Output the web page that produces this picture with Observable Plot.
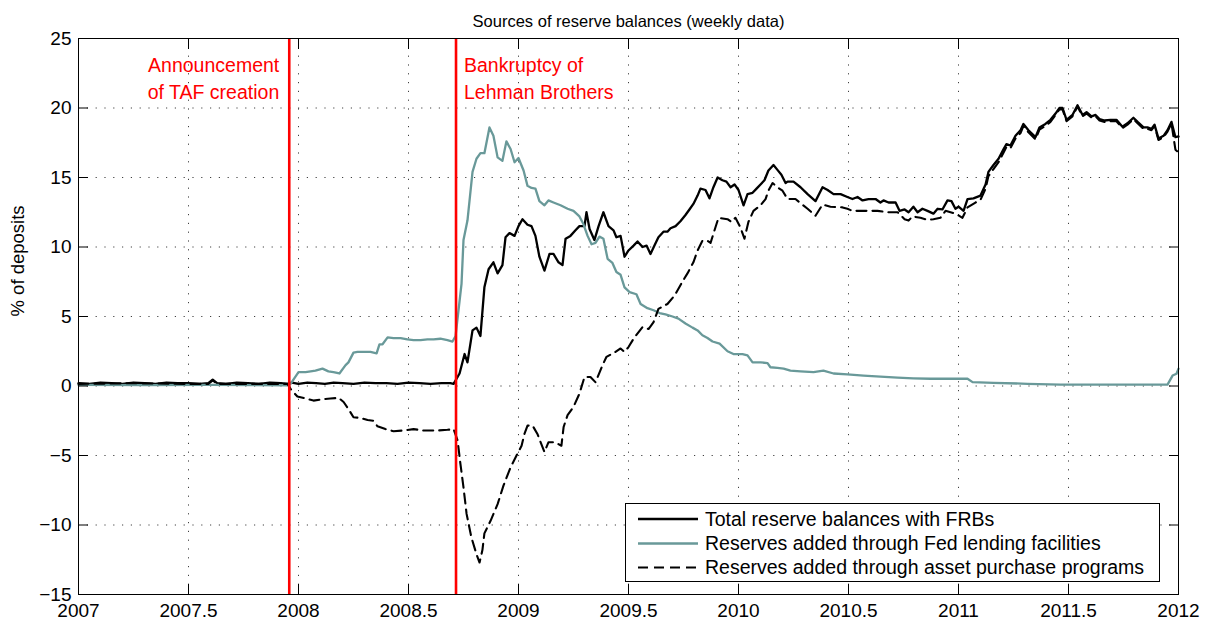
<!DOCTYPE html>
<html>
<head>
<meta charset="utf-8">
<script src="https://cdn.jsdelivr.net/npm/d3@7"></script>
<script src="https://cdn.jsdelivr.net/npm/@observablehq/plot@0.6"></script>
<style>
  html, body { margin: 0; padding: 0; background: #fff; }
  #wrap { position: relative; width: 1208px; height: 623px; font-family: "Liberation Sans", Arial, Helvetica, sans-serif; }
  #legend { position: absolute; left: 625px; top: 503px; width: 535px; height: 79px; border: 1px solid #000; background: #fff; box-sizing: border-box; }
</style>
</head>
<body>
<div id="wrap"><div id="legend"></div></div>
<script>
// ---------- DATA (decimal year, % of deposits) ----------
const chartTitle = "Sources of reserve balances (weekly data)";
const yLabel = "% of deposits";
const xTicks = [2007, 2007.5, 2008, 2008.5, 2009, 2009.5, 2010, 2010.5, 2011, 2011.5, 2012];
const yTicks = [-15, -10, -5, 0, 5, 10, 15, 20, 25];
const seriesNames = ["Total reserve balances with FRBs", "Reserves added through Fed lending facilities", "Reserves added through asset purchase programs"];
const eventDates = [2007.958, 2008.716];
const eventLabels = ["Announcement\nof TAF creation", "Bankruptcy of\nLehman Brothers"];
const eventLabelY = [24, 24];

const totalReserves = [
  [2007.00,0.2],[2007.05,0.15],[2007.10,0.25],[2007.15,0.2],[2007.20,0.15],[2007.25,0.25],[2007.30,0.2],[2007.35,0.15],
  [2007.40,0.25],[2007.45,0.2],[2007.50,0.2],[2007.55,0.15],[2007.59,0.2],[2007.61,0.45],[2007.63,0.2],[2007.67,0.15],
  [2007.72,0.25],[2007.77,0.2],[2007.82,0.15],[2007.87,0.25],[2007.92,0.2],[2007.95,0.15],[2007.97,0.25],[2008.00,0.15],
  [2008.04,0.25],[2008.08,0.2],[2008.12,0.15],[2008.16,0.25],[2008.20,0.2],[2008.25,0.15],[2008.30,0.25],[2008.35,0.2],
  [2008.40,0.2],[2008.45,0.15],[2008.50,0.25],[2008.55,0.2],[2008.60,0.15],[2008.65,0.2],[2008.69,0.2],[2008.705,0.15],
  [2008.732,0.9],[2008.755,2.3],[2008.768,1.7],[2008.791,4.0],[2008.809,4.2],[2008.827,3.6],[2008.845,7.1],[2008.864,8.4],
  [2008.886,8.9],[2008.905,8.1],[2008.927,8.7],[2008.941,10.7],[2008.959,11.0],[2008.982,10.8],[2009.000,11.5],[2009.018,12.0],
  [2009.041,11.6],[2009.059,11.5],[2009.077,10.8],[2009.095,9.3],[2009.118,8.3],[2009.141,9.5],[2009.159,9.5],[2009.182,8.9],
  [2009.200,8.7],[2009.214,10.6],[2009.236,10.8],[2009.259,11.2],[2009.277,11.5],[2009.300,11.5],[2009.309,12.5],[2009.323,11.3],
  [2009.345,10.5],[2009.364,11.5],[2009.386,12.5],[2009.409,11.5],[2009.432,11.2],[2009.445,10.7],[2009.464,10.8],[2009.482,9.3],
  [2009.500,9.75],[2009.523,10.1],[2009.541,10.4],[2009.564,10.0],[2009.582,10.1],[2009.600,9.5],[2009.618,10.1],[2009.636,10.7],
  [2009.659,11.1],[2009.677,11.1],[2009.691,11.35],[2009.714,11.5],[2009.736,11.85],[2009.759,12.3],[2009.777,12.7],[2009.795,13.1],
  [2009.814,13.7],[2009.827,14.2],[2009.850,14.1],[2009.868,13.5],[2009.886,14.3],[2009.905,15.0],[2009.927,14.8],[2009.945,14.7],
  [2009.964,14.3],[2009.982,14.5],[2010.000,14.1],[2010.023,13.0],[2010.041,13.8],[2010.064,13.9],[2010.082,14.2],[2010.100,14.5],
  [2010.118,14.8],[2010.136,15.5],[2010.159,15.9],[2010.177,15.55],[2010.195,15.2],[2010.214,14.6],[2010.223,14.7],[2010.250,14.7],
  [2010.282,14.3],[2010.314,13.8],[2010.350,13.3],[2010.382,14.3],[2010.405,14.1],[2010.432,13.8],[2010.464,13.8],[2010.495,13.6],
  [2010.518,13.45],[2010.541,13.6],[2010.564,13.35],[2010.591,13.45],[2010.623,13.45],[2010.645,13.2],[2010.659,13.35],[2010.682,13.2],
  [2010.714,13.2],[2010.732,12.6],[2010.755,12.7],[2010.773,12.5],[2010.795,12.9],[2010.814,12.5],[2010.836,12.75],[2010.859,12.6],
  [2010.886,12.4],[2010.905,12.75],[2010.927,12.7],[2010.950,13.35],[2010.968,13.3],[2010.986,12.75],[2011.000,12.9],[2011.023,12.6],
  [2011.041,13.45],[2011.068,13.5],[2011.100,13.7],[2011.123,14.5],[2011.136,15.4],[2011.159,15.9],[2011.182,16.35],[2011.205,17.05],
  [2011.218,17.4],[2011.236,17.3],[2011.259,18.0],[2011.282,18.4],[2011.295,18.85],[2011.318,18.4],[2011.350,17.9],[2011.368,18.6],
  [2011.395,18.85],[2011.418,19.15],[2011.441,19.6],[2011.459,20.0],[2011.473,20.0],[2011.491,19.15],[2011.518,19.5],[2011.541,20.2],
  [2011.564,19.5],[2011.582,19.7],[2011.605,19.4],[2011.623,19.5],[2011.641,19.2],[2011.664,19.1],[2011.691,19.15],[2011.718,19.15],
  [2011.745,18.65],[2011.768,18.9],[2011.795,19.3],[2011.814,19.0],[2011.841,18.6],[2011.859,18.6],[2011.877,18.5],[2011.891,18.8],
  [2011.909,17.8],[2011.932,18.0],[2011.950,18.4],[2011.968,19.0],[2011.986,17.9],[2012.000,17.95]
];

const lendingFacilities = [
  [2007.00,0.08],[2007.30,0.06],[2007.60,0.08],[2007.95,0.05],[2007.964,0.15],[2008.000,1.0],[2008.032,1.0],[2008.055,1.05],
  [2008.077,1.1],[2008.109,1.25],[2008.136,1.05],[2008.159,1.0],[2008.186,0.9],[2008.214,1.5],[2008.227,1.7],[2008.250,2.4],
  [2008.268,2.45],[2008.295,2.45],[2008.327,2.45],[2008.355,2.35],[2008.368,3.0],[2008.382,3.0],[2008.405,3.5],[2008.432,3.45],
  [2008.464,3.45],[2008.495,3.35],[2008.523,3.3],[2008.555,3.3],[2008.586,3.35],[2008.614,3.35],[2008.645,3.4],[2008.677,3.3],
  [2008.700,3.2],[2008.714,3.6],[2008.727,5.4],[2008.741,7.35],[2008.750,10.5],[2008.768,11.9],[2008.791,15.4],[2008.809,16.35],
  [2008.827,16.75],[2008.845,16.75],[2008.868,18.6],[2008.886,18.0],[2008.905,16.45],[2008.927,16.2],[2008.945,17.6],[2008.964,17.05],
  [2008.982,16.1],[2009.000,16.4],[2009.023,15.5],[2009.041,14.4],[2009.059,14.25],[2009.077,14.2],[2009.095,13.3],[2009.118,13.0],
  [2009.136,13.35],[2009.159,13.2],[2009.191,13.0],[2009.223,12.75],[2009.250,12.6],[2009.277,12.2],[2009.295,11.65],[2009.314,10.8],
  [2009.332,10.2],[2009.350,10.3],[2009.368,10.75],[2009.386,10.6],[2009.405,9.15],[2009.427,8.85],[2009.445,8.2],[2009.464,8.0],
  [2009.482,7.1],[2009.505,6.75],[2009.536,6.6],[2009.555,5.9],[2009.586,5.6],[2009.614,5.45],[2009.641,5.25],[2009.668,5.15],
  [2009.700,5.0],[2009.727,4.85],[2009.759,4.5],[2009.791,4.2],[2009.814,4.0],[2009.836,3.65],[2009.859,3.45],[2009.882,3.2],
  [2009.914,3.05],[2009.950,2.5],[2009.977,2.3],[2010.018,2.3],[2010.041,2.2],[2010.064,1.7],[2010.100,1.7],[2010.132,1.65],
  [2010.145,1.35],[2010.177,1.3],[2010.205,1.25],[2010.236,1.1],[2010.282,1.05],[2010.341,1.0],[2010.386,1.1],[2010.432,0.9],
  [2010.495,0.83],[2010.568,0.75],[2010.645,0.68],[2010.723,0.6],[2010.795,0.55],[2010.873,0.52],[2010.950,0.52],[2011.041,0.52],
  [2011.064,0.28],[2011.159,0.23],[2011.314,0.16],[2011.464,0.1],[2011.614,0.1],[2011.768,0.1],[2011.950,0.1],[2011.973,0.75],
  [2011.991,0.88],[2012.000,1.25]
];

const assetPurchases = [
  [2007.00,0.15],[2007.25,0.2],[2007.50,0.15],[2007.59,0.15],[2007.61,0.4],[2007.63,0.15],[2007.95,0.15],[2007.968,-0.3],
  [2007.995,-0.75],[2008.032,-0.9],[2008.068,-1.05],[2008.109,-0.95],[2008.145,-0.9],[2008.182,-0.85],[2008.205,-1.15],[2008.227,-1.65],
  [2008.250,-2.25],[2008.282,-2.3],[2008.314,-2.45],[2008.341,-2.5],[2008.359,-2.9],[2008.395,-3.1],[2008.432,-3.25],[2008.477,-3.2],
  [2008.523,-3.1],[2008.568,-3.2],[2008.632,-3.2],[2008.677,-3.15],[2008.705,-3.1],[2008.723,-3.9],[2008.736,-5.6],[2008.750,-7.3],
  [2008.764,-9.2],[2008.786,-10.9],[2008.809,-12.1],[2008.823,-12.7],[2008.836,-11.8],[2008.845,-10.6],[2008.873,-9.7],[2008.905,-8.5],
  [2008.932,-7.15],[2008.964,-5.85],[2008.991,-5.0],[2009.014,-4.3],[2009.027,-3.45],[2009.041,-2.85],[2009.064,-2.85],[2009.086,-3.45],
  [2009.118,-4.75],[2009.136,-4.05],[2009.168,-4.05],[2009.195,-4.3],[2009.205,-2.95],[2009.223,-2.1],[2009.250,-1.5],[2009.277,-0.55],
  [2009.300,0.65],[2009.327,0.65],[2009.350,0.27],[2009.382,1.5],[2009.400,2.1],[2009.441,2.45],[2009.464,2.7],[2009.482,2.45],
  [2009.500,2.8],[2009.523,3.4],[2009.564,4.25],[2009.591,4.1],[2009.614,4.6],[2009.636,5.55],[2009.677,5.9],[2009.709,6.5],
  [2009.745,7.5],[2009.768,8.1],[2009.795,8.9],[2009.814,9.75],[2009.836,10.45],[2009.859,10.45],[2009.873,10.3],[2009.895,11.4],
  [2009.909,12.1],[2009.950,12.0],[2009.968,11.8],[2009.986,12.1],[2010.009,11.4],[2010.027,10.6],[2010.045,11.8],[2010.068,12.6],
  [2010.100,13.0],[2010.123,13.45],[2010.136,14.05],[2010.155,14.6],[2010.177,14.3],[2010.200,14.05],[2010.223,13.45],[2010.259,13.45],
  [2010.314,12.75],[2010.350,12.25],[2010.382,13.05],[2010.418,12.9],[2010.473,12.85],[2010.495,12.75],[2010.518,12.6],[2010.591,12.6],
  [2010.632,12.6],[2010.677,12.5],[2010.723,12.5],[2010.755,12.0],[2010.773,11.9],[2010.791,12.2],[2010.827,12.1],[2010.859,11.95],
  [2010.886,12.0],[2010.918,12.1],[2010.941,12.6],[2010.986,12.4],[2011.018,12.1],[2011.041,12.85],[2011.077,13.2],[2011.100,13.4],
  [2011.123,14.2],[2011.136,15.1],[2011.159,15.6],[2011.182,16.1],[2011.205,16.8],[2011.218,17.2],[2011.236,17.1],[2011.259,17.8],
  [2011.282,18.2],[2011.295,18.7],[2011.318,18.25],[2011.350,17.75],[2011.368,18.45],[2011.395,18.7],[2011.418,19.0],[2011.441,19.5],
  [2011.459,19.9],[2011.473,19.9],[2011.491,19.05],[2011.518,19.4],[2011.541,20.1],[2011.564,19.4],[2011.582,19.6],[2011.605,19.3],
  [2011.623,19.4],[2011.641,19.1],[2011.664,19.0],[2011.691,19.05],[2011.718,19.05],[2011.745,18.55],[2011.768,18.8],[2011.795,19.2],
  [2011.814,18.9],[2011.841,18.5],[2011.859,18.5],[2011.877,18.4],[2011.891,18.7],[2011.909,17.7],[2011.932,17.9],[2011.950,18.3],
  [2011.968,18.9],[2011.986,17.0],[2012.000,16.8]
];

// ---------- STYLE ----------
const FONT = '"Liberation Sans", Arial, Helvetica, sans-serif';
const TEAL = "#699999";
const RED = "#ff0000";
const styles = [
  {stroke: "#000", strokeWidth: 2.3, dash: null},
  {stroke: TEAL, strokeWidth: 2.3, dash: null},
  {stroke: "#000", strokeWidth: 2.1, dash: "10,6"}
];
const seriesData = [totalReserves, lendingFacilities, assetPurchases];
const events = eventDates.map((d, i) => ({date: d, label: eventLabels[i], y: eventLabelY[i]}));

const grid = {stroke: "#000", strokeOpacity: 0.75, strokeWidth: 1, strokeDasharray: "1.2,7.6"};

const chart = Plot.plot({
  width: 1208,
  height: 623,
  marginLeft: 78,
  marginRight: 30,
  marginTop: 38,
  marginBottom: 29,
  style: {fontFamily: FONT, fontSize: "19px", background: "#fff", overflow: "visible"},
  x: {domain: [2007, 2012]},
  y: {domain: [-15, 25]},
  marks: [
    Plot.gridX(xTicks, grid),
    Plot.gridY(yTicks, grid),
    ...seriesData.map((s, i) => Plot.line(s, {
      x: d => d[0], y: d => d[1],
      stroke: styles[i].stroke, strokeWidth: styles[i].strokeWidth,
      strokeDasharray: styles[i].dash, strokeLinejoin: "round"
    })),
    Plot.ruleX(eventDates, {stroke: RED, strokeWidth: 2.6}),
    Plot.text(events.slice(0, 1), {x: "date", y: "y", text: "label", fill: RED, textAnchor: "end", dx: -10, lineAnchor: "top", lineHeight: 1.39, fontSize: 19.5}),
    Plot.text(events.slice(1), {x: "date", y: "y", text: "label", fill: RED, textAnchor: "start", dx: 8, lineAnchor: "top", lineHeight: 1.39, fontSize: 19.5}),
    Plot.axisX({anchor: "bottom", ticks: xTicks, tickSize: -10, tickPadding: 19, tickFormat: d => String(d), label: null, fontSize: 19}),
    Plot.axisX({anchor: "top", ticks: xTicks, tickSize: -10, tickFormat: () => "", label: null}),
    Plot.axisY({anchor: "left", ticks: yTicks, tickSize: -10, tickPadding: 17, tickFormat: d => d < 0 ? "\u2212" + Math.abs(d) : String(d), label: null, fontSize: 19}),
    Plot.axisY({anchor: "right", ticks: yTicks, tickSize: -10, tickFormat: () => "", label: null}),
    Plot.frame({stroke: "#000", strokeWidth: 1}),
    Plot.text([chartTitle], {frameAnchor: "top", dy: -23, fontSize: 16.5, fill: "#000"}),
    Plot.text([yLabel], {frameAnchor: "left", rotate: -90, dx: -60, fontSize: 18.5, fill: "#000"})
  ]
});

const wrap = document.getElementById("wrap");
wrap.insertBefore(chart, wrap.firstChild);

// ---------- LEGEND (inside plot area, lower right) ----------
const lg = d3.select("#legend").append("svg")
  .attr("width", 533).attr("height", 77)
  .style("display", "block")
  .style("font-family", FONT).style("font-size", "19.5px");
const rowY = [15, 39.5, 63.5];
seriesNames.forEach((name, i) => {
  lg.append("line")
    .attr("x1", 12).attr("x2", 72).attr("y1", rowY[i]).attr("y2", rowY[i])
    .attr("stroke", styles[i].stroke).attr("stroke-width", styles[i].strokeWidth)
    .attr("stroke-dasharray", styles[i].dash);
  lg.append("text")
    .attr("x", 79).attr("y", rowY[i]).attr("dy", "0.35em")
    .attr("fill", "#000").text(name);
});
</script>
</body>
</html>
